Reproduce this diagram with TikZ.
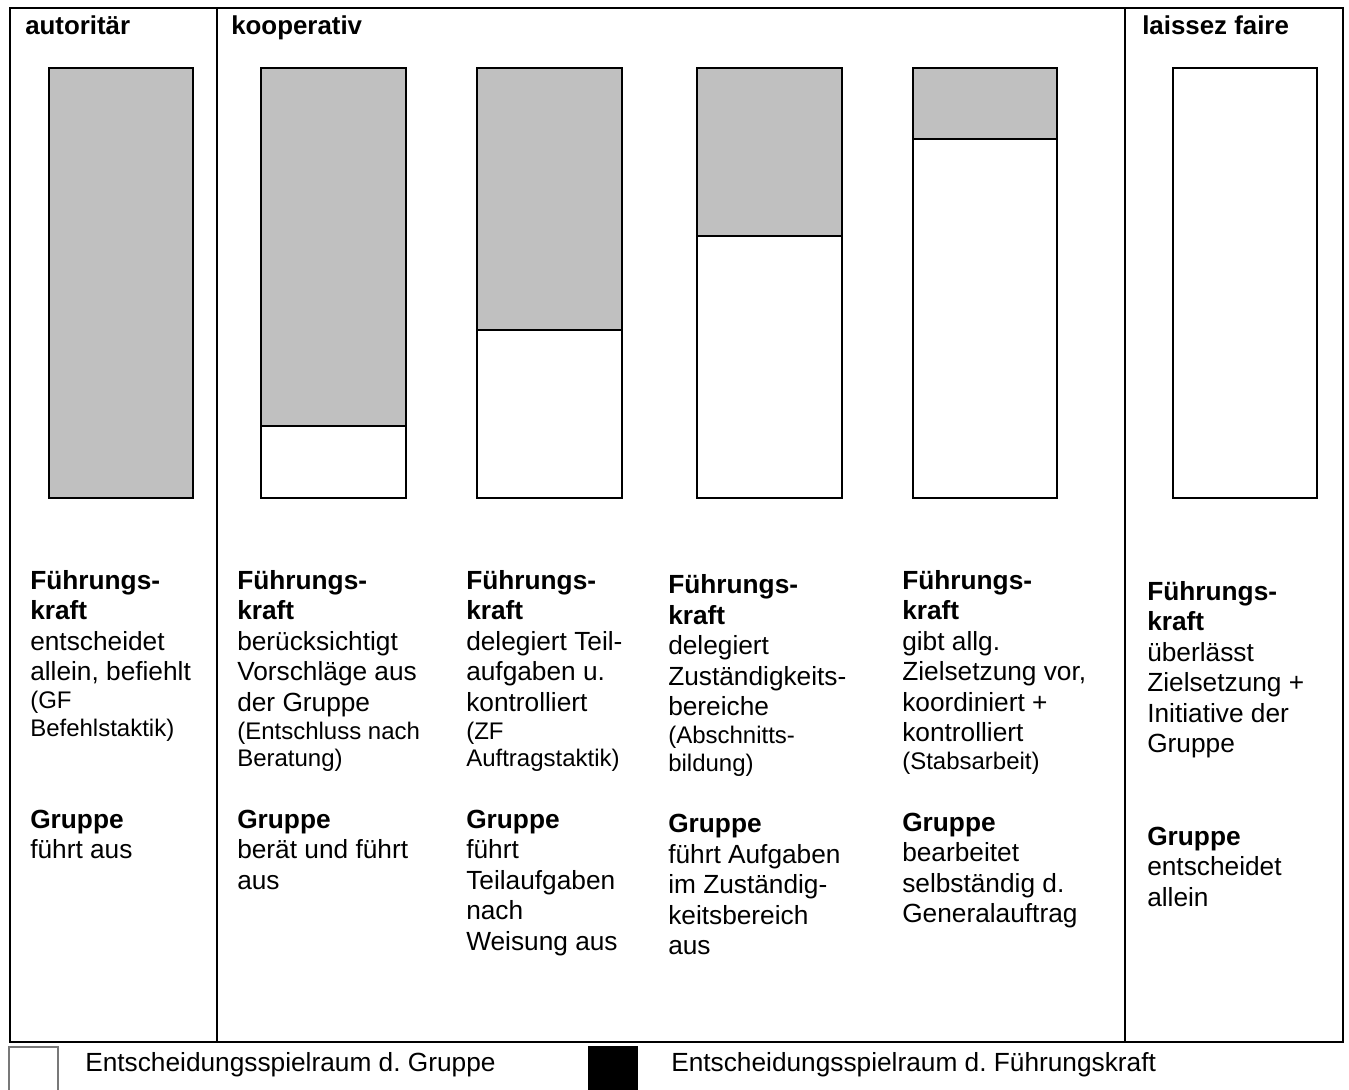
\documentclass[tikz,border=0pt]{standalone}
\usepackage{fontspec}
\setmainfont{Liberation Sans}
\definecolor{leadgray}{RGB}{192,192,192}
\definecolor{keyedge}{RGB}{120,120,120}
\begin{document}
\frenchspacing
\begin{tikzpicture}[x=0.75pt,y=-0.75pt,
  hd/.style={anchor=base west, inner sep=0pt, font=\fontsize{19.4}{23}\selectfont\bfseries},
  txB/.style={anchor=base west, inner sep=0pt, font=\fontsize{19.7}{23}\selectfont\bfseries},
  txR/.style={anchor=base west, inner sep=0pt, font=\fontsize{19.7}{23}\selectfont},
  txS/.style={anchor=base west, inner sep=0pt, font=\fontsize{18}{21}\selectfont},
  frameline/.style={line width=2pt},
  barline/.style={line width=1.5pt}]
\useasboundingbox (0,0) rectangle (1349,1089);

% table frame with three style columns
\draw[frameline] (10,8) rectangle (1343,1042);
\draw[frameline] (217,8) -- (217,1042);
\draw[frameline] (1125,8) -- (1125,1042);

% column headings
\node[hd] (hAut) at (25,34) {autoritär};
\node[hd] (hKoop) at (231,34) {kooperativ};
\node[hd] (hLf) at (1142,34) {laissez faire};

% bars: grey = share of the leader, white = share of the group
\foreach \l/\r/\s [count=\i] in {49/193/498, 261/406/426, 477/622/330, 697/842/236, 913/1057/139, 1173/1317/68} {
  \fill[leadgray] (\l,68) rectangle (\r,\s);
  \draw[barline] (\l,\s) -- (\r,\s);
  \draw[barline] (\l,68) rectangle (\r,498);
}

% column 1
\foreach \y/\t/\s [count=\i] in {589/Führungs-/txB, 619.5/kraft/txB, 650/entscheidet/txR,
  680.5/{allein, befiehlt}/txR, 708.5/(GF/txS, 736/Befehlstaktik)/txS,
  828/Gruppe/txB, 858.5/führt aus/txR}
  \node[\s] (a-\i) at (30,\y) {\t};

% column 2
\foreach \y/\t/\s [count=\i] in {589/Führungs-/txB, 619.5/kraft/txB, 650/berücksichtigt/txR,
  680.5/Vorschläge aus/txR, 711/der Gruppe/txR, 739/(Entschluss nach/txS, 766.5/Beratung)/txS,
  828/Gruppe/txB, 858.5/berät und führt/txR, 889/aus/txR}
  \node[\s] (b-\i) at (237,\y) {\t};

% column 3
\foreach \y/\t/\s [count=\i] in {589/Führungs-/txB, 619.5/kraft/txB, 650/delegiert Teil-/txR,
  680.5/aufgaben u./txR, 711/kontrolliert/txR, 739/(ZF/txS, 766.5/Auftragstaktik)/txS,
  828/Gruppe/txB, 858.5/führt/txR, 889/Teilaufgaben/txR, 919.5/nach/txR, 950/Weisung aus/txR}
  \node[\s] (c-\i) at (466,\y) {\t};

% column 4
\foreach \y/\t/\s [count=\i] in {593.5/Führungs-/txB, 624/kraft/txB, 654.5/delegiert/txR,
  685/Zuständigkeits-/txR, 715.5/bereiche/txR, 743.5/(Abschnitts-/txS, 771/bildung)/txS,
  832.5/Gruppe/txB, 863/führt Aufgaben/txR, 893.5/im Zuständig-/txR, 924/keitsbereich/txR, 954.5/aus/txR}
  \node[\s] (d-\i) at (668,\y) {\t};

% column 5
\foreach \y/\t/\s [count=\i] in {589/Führungs-/txB, 619.5/kraft/txB, 650/gibt allg./txR,
  680.5/{Zielsetzung vor,}/txR, 711/koordiniert +/txR, 741.5/kontrolliert/txR, 769.5/(Stabsarbeit)/txS,
  831/Gruppe/txB, 861.5/bearbeitet/txR, 892/selbständig d./txR, 922.5/Generalauftrag/txR}
  \node[\s] (e-\i) at (902,\y) {\t};

% column 6
\foreach \y/\t/\s [count=\i] in {600/Führungs-/txB, 630.5/kraft/txB, 661/überlässt/txR,
  691.5/Zielsetzung +/txR, 722/Initiative der/txR, 752.5/Gruppe/txR,
  845/Gruppe/txB, 875.5/entscheidet/txR, 906/allein/txR}
  \node[\s] (f-\i) at (1147,\y) {\t};

% legend
\draw[line width=1.5pt, draw=keyedge, fill=white] (9,1047) rectangle (58,1100);
\node[txR] (keyGroup) at (85,1071) {Entscheidungsspielraum d. Gruppe};
\fill[black] (588,1046) rectangle (638,1100);
\node[txR] (keyLead) at (671,1071) {Entscheidungsspielraum d. Führungskraft};
\end{tikzpicture}
\end{document}
